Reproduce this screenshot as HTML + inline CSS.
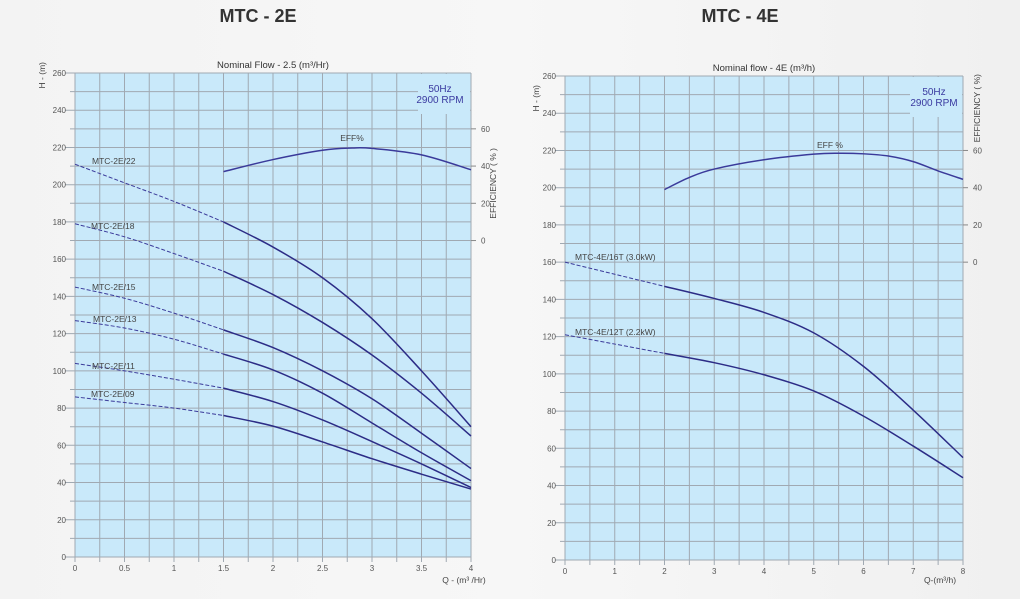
<!DOCTYPE html>
<html><head><meta charset="utf-8">
<style>
body{margin:0;width:1020px;height:594px;overflow:hidden;background:linear-gradient(90deg,#f3f3f3,#f7f7f7 50%,#f0f0f0);font-family:"Liberation Sans",sans-serif;}
svg text{font-family:"Liberation Sans",sans-serif;}
</style></head>
<body>
<svg id="c" width="1020" height="594" xmlns="http://www.w3.org/2000/svg">
<text x="258" y="22" font-size="18" font-weight="bold" text-anchor="middle" fill="#333">MTC - 2E</text>
<text x="740" y="22" font-size="18" font-weight="bold" text-anchor="middle" fill="#333">MTC - 4E</text>
</svg>
<script>
// ---- Left chart data (MTC-2E) ----
const L_q = [0, 0.5, 1, 1.5, 2, 2.5, 3, 3.5, 4];
const L_22 = [211, 201, 191, 180, 166.5, 150, 128, 100, 70];
const L_18 = [179, 172, 163, 153.5, 141, 126, 108.5, 88, 65];
const L_15 = [145, 139, 131, 122, 112.5, 100, 85, 66.5, 47.5];
const L_13 = [127, 123, 117, 109, 100.5, 88, 72, 56, 41];
const L_11 = [104, 100, 95.5, 90.7, 83.5, 73.6, 62, 50, 37.3];
const L_09 = [86, 83, 80, 76, 70.3, 61.8, 52.8, 44.5, 36.5];
const L_names = ["MTC-2E/22","MTC-2E/18","MTC-2E/15","MTC-2E/13","MTC-2E/11","MTC-2E/09"];
const L_effQ = [1.5, 2, 2.5, 2.8, 3, 3.5, 4];
const L_eff = [37, 43.5, 48.5, 49.7, 49.5, 46, 38];
const L_xticks = ["0","0.5","1","1.5","2","2.5","3","3.5","4"];
const L_yticks = [0,20,40,60,80,100,120,140,160,180,200,220,240,260];
const L_effTicks = [0,20,40,60];
// ---- Right chart data (MTC-4E) ----
const R_q = [0, 1, 2, 3, 4, 5, 6, 7, 8];
const R_16 = [160, 153.5, 147, 140.5, 133, 122, 104, 80.5, 55];
const R_12 = [121, 116, 111, 106, 99.5, 90.8, 77.3, 61.2, 44.2];
const R_names = ["MTC-4E/16T (3.0kW)","MTC-4E/12T (2.2kW)"];
const R_effQ = [2, 2.5, 3, 4, 5, 5.5, 6, 6.5, 7, 7.5, 8];
const R_eff = [39, 45.5, 50, 55, 58, 58.5, 58.2, 57, 54, 49, 44.5];
const R_xticks = ["0","1","2","3","4","5","6","7","8"];
const R_yticks = [0,20,40,60,80,100,120,140,160,180,200,220,240,260];
const R_effTicks = [0,20,40,60];

const svg = document.getElementById('c');
const NS = "http://www.w3.org/2000/svg";
function mk(tag, attrs, parent){const e=document.createElementNS(NS,tag);for(const k in attrs)e.setAttribute(k,attrs[k]);(parent||svg).appendChild(e);return e;}
function txt(s,x,y,size,anchor,fill,rot){const t=mk('text',{x:x,y:y,'font-size':size,'text-anchor':anchor||'start',fill:fill||'#444'});if(rot)t.setAttribute('transform','rotate(-90 '+x+' '+y+')');t.textContent=s;return t;}
function spline(pts){let d='M'+pts[0][0]+','+pts[0][1];for(let i=0;i<pts.length-1;i++){const p0=pts[i-1]||pts[i],p1=pts[i],p2=pts[i+1],p3=pts[i+2]||p2;const c1x=p1[0]+(p2[0]-p0[0])/6,c1y=p1[1]+(p2[1]-p0[1])/6,c2x=p2[0]-(p3[0]-p1[0])/6,c2y=p2[1]-(p3[1]-p1[1])/6;d+=' C'+c1x+','+c1y+' '+c2x+','+c2y+' '+p2[0]+','+p2[1];}return d;}

function chart(cfg){
  const X=q=>cfg.x0+(q/cfg.qmax)*(cfg.x1-cfg.x0);
  const Y=h=>cfg.y1-(h/260)*(cfg.y1-cfg.y0);
  const g=mk('g',{});
  
  
  mk('rect',{x:cfg.x0,y:cfg.y0,width:cfg.x1-cfg.x0,height:cfg.y1-cfg.y0,fill:'#c9e9fa'},g);
  for(let h=0;h<=260;h+=10){const l=mk('line',{x1:cfg.x0-(h%20==0?10:5),x2:cfg.x1,y1:Y(h),y2:Y(h),stroke:'#a0a9b2','stroke-width':1},g);
    }
  for(let q=0;q<=cfg.qmax+1e-9;q+=cfg.qstep){const l=mk('line',{x1:X(q),x2:X(q),y1:cfg.y0,y2:cfg.y1+5,stroke:'#a0a9b2','stroke-width':1},g);
    }
  mk('rect',{x:cfg.boxX,y:cfg.y0+1,width:cfg.x1-cfg.boxX-1,height:40,fill:'#c9e9fa'},g);
  const hz=txt('50Hz',cfg.boxX+cfg.boxTx,cfg.y0+19,10,'middle','#3a3aa0');
  
  const rpm=txt('2900 RPM',cfg.boxX+cfg.boxTx,cfg.y0+30,10,'middle','#3a3aa0');
  
  cfg.yticks.forEach(h=>{const t=txt(String(h),cfg.x0-9,Y(h)+3,8,'end','#555');});
  cfg.xticks.forEach((s,i)=>{const t=txt(s,X(i*cfg.xtickStep),cfg.y1+14,8,'middle','#555');});
  const E=e=>Y(cfg.effBase+e);
  cfg.effTicks.forEach(e=>{mk('line',{x1:cfg.x1,x2:cfg.x1+5,y1:E(e),y2:E(e),stroke:'#888'});
    const t=txt(String(e),cfg.x1+10,E(e)+3,8,'start','#555');});
  cfg.series.forEach((vals,si)=>{
    const dashPts=[],solidPts=[];
    cfg.q.forEach((q,i)=>{const p=[X(q),Y(vals[i])];if(q<=cfg.dashTo)dashPts.push(p);if(q>=cfg.dashTo)solidPts.push(p);});
    const d=mk('path',{d:spline(dashPts),fill:'none',stroke:'#3a3a9a','stroke-width':1,'stroke-dasharray':'4,2'});
    
    const s=mk('path',{d:spline(solidPts),fill:'none',stroke:'#2c2c86','stroke-width':1.5});
    
    const lb=txt(cfg.names[si],cfg.labelPos[si][0],cfg.labelPos[si][1],8.5,'start','#444');
    
  });
  const ep=mk('path',{d:spline(cfg.effQ.map((q,i)=>[X(q),E(cfg.eff[i])])),fill:'none',stroke:'#3a3a9a','stroke-width':1.5});
  
  const el=txt(cfg.effLabel,cfg.effLabelPos[0],cfg.effLabelPos[1],8.5,'middle','#444');
  
  const t1=txt(cfg.title,(cfg.x0+cfg.x1)/2,cfg.y0-5,9.5,'middle','#333');
  
  const t2=txt('H - (m)',cfg.hTitle[0],cfg.hTitle[1],8.5,'end','#444',true);
  
  const t3=txt(cfg.qTitle,cfg.qTitlePos[0],cfg.qTitlePos[1],8.5,'middle','#444');
  
  const t4=txt(cfg.effTitle,cfg.effTitlePos[0],cfg.effTitlePos[1],8.5,'end','#444',true);
  
}

chart({id:'mtc-2e',x0:75,x1:471,y0:73,y1:557,qmax:4,qstep:0.25,xtickStep:0.5,
  q:L_q,series:[L_22,L_18,L_15,L_13,L_11,L_09],names:L_names,dashTo:1.5,
  labelPos:[[92,164],[91,229],[92,290],[93,322],[92,369],[91,397]],
  effQ:L_effQ,eff:L_eff,effBase:170,effTicks:L_effTicks,effLabel:'EFF%',effLabelPos:[352,141],
  xticks:L_xticks,yticks:L_yticks,boxX:418,boxTx:22,
  title:'Nominal Flow - 2.5 (m³/Hr)',hTitle:[45,62],qTitle:'Q - (m³ /Hr)',qTitlePos:[464,583],
  effTitle:'EFFICIENCY  ( % )',effTitlePos:[496,148]});
chart({id:'mtc-4e',x0:565,x1:963,y0:76,y1:560,qmax:8,qstep:0.5,xtickStep:1,
  q:R_q,series:[R_16,R_12],names:R_names,dashTo:2,
  labelPos:[[575,260],[575,335]],
  effQ:R_effQ,eff:R_eff,effBase:160,effTicks:R_effTicks,effLabel:'EFF %',effLabelPos:[830,148],
  xticks:R_xticks,yticks:R_yticks,boxX:910,boxTx:24,
  title:'Nominal flow - 4E (m³/h)',hTitle:[539,85],qTitle:'Q-(m³/h)',qTitlePos:[940,583],
  effTitle:'EFFICIENCY ( %)',effTitlePos:[980,74]});
</script>
</body></html>
